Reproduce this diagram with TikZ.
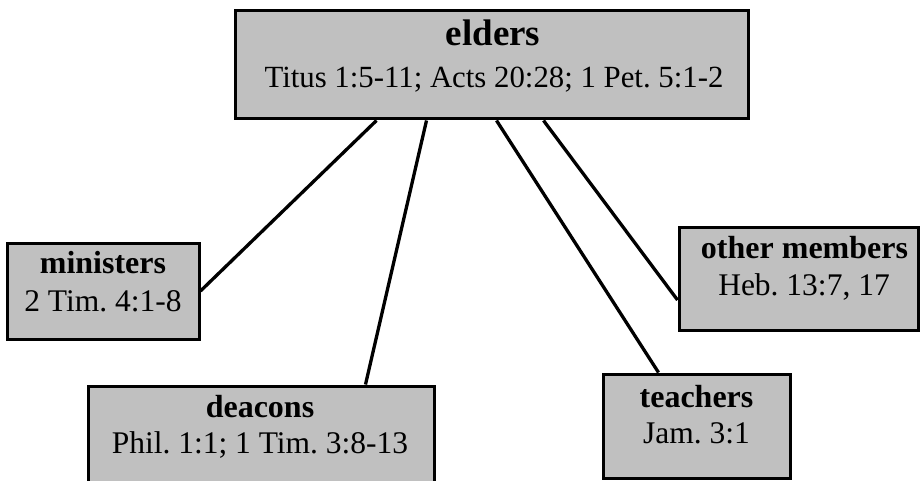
\documentclass[tikz,border=0pt]{standalone}
\usepackage{fontspec}
\setmainfont{Liberation Serif}
\usetikzlibrary{calc}
\frenchspacing
\tikzset{
  box/.style={draw=black, fill=boxgray, line width=3pt, inner sep=0pt, rectangle},
  lbl/.style={inner sep=0pt, anchor=base},
  ttl/.style={lbl, font=\fontsize{32}{36}\selectfont\bfseries},
  ref/.style={lbl, font=\fontsize{31.5}{36}\selectfont},
  conn/.style={line width=3.3pt, black},
}
\definecolor{boxgray}{HTML}{C0C0C0}
\begin{document}
\begin{tikzpicture}[x=1pt,y=-1pt]
\useasboundingbox (0,0) rectangle (920,481);
\clip (0,0) rectangle (920,481);
% boxes
\node[box, minimum width=513pt, minimum height=108pt] (elders) at (491.5,65) {};
\node[box, minimum width=192pt, minimum height=96pt] (ministers) at (103,291) {};
\node[box, minimum width=346pt, minimum height=114pt] (deacons) at (261,443) {};
\node[box, minimum width=187pt, minimum height=104pt] (teachers) at (696.5,426) {};
\node[box, minimum width=239pt, minimum height=103pt] (other) at (798.5,278.5) {};
% texts
\node[lbl, font=\fontsize{37}{40}\selectfont\bfseries] (eldersT) at (493,46) {elders};
\node[ref, font=\fontsize{30.8}{36}\selectfont] (eldersR) at (494,88) {Titus 1:5-11; Acts 20:28; 1 Pet. 5:1-2};
\node[ttl] (ministersT) at (103,273) {ministers};
\node[ref] (ministersR) at (103,311) {2 Tim. 4:1-8};
\node[ttl] (deaconsT) at (260,417) {deacons};
\node[ref] (deaconsR) at (260,453) {Phil. 1:1; 1 Tim. 3:8-13};
\node[ttl] (teachersT) at (696.5,407) {teachers};
\node[ref] (teachersR) at (696.5,443) {Jam. 3:1};
\node[ttl] (otherT) at (804.5,258) {other members};
\node[ref] (otherR) at (804,295) {Heb. 13:7, 17};
% connectors
\draw[conn] ($(elders.south west)+(143,0)$) -- (ministers.east);
\draw[conn] ($(elders.south west)+(193,0)$) -- ($(deacons.north west)+(279,0)$);
\draw[conn] ($(elders.south west)+(263,0)$) -- ($(teachers.north west)+(57,0)$);
\draw[conn] ($(elders.south west)+(310,0)$) -- ($(other.west)+(0,21.5)$);
\end{tikzpicture}
\end{document}
